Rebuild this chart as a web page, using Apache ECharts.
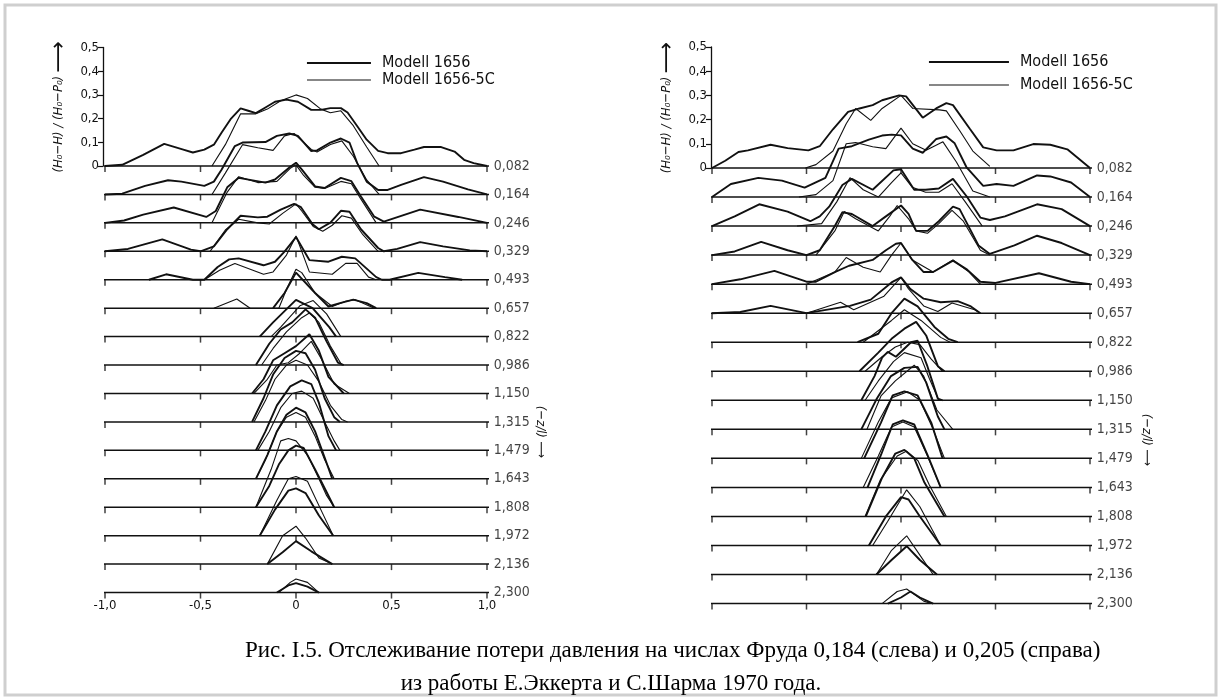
<!DOCTYPE html>
<html>
<head>
<meta charset="utf-8">
<script src="https://cdn.jsdelivr.net/npm/echarts@6/dist/echarts.min.js"></script>
<style>
  html, body { margin: 0; padding: 0; background: #fff; }
  #chart { width: 1222px; height: 700px; }
</style>
</head>
<body>
<div id="chart"></div>
<script>
// z/l stations, top to bottom
var stations = ['0,082', '0,164', '0,246', '0,329', '0,493', '0,657', '0,822', '0,986',
                '1,150', '1,315', '1,479', '1,643', '1,808', '1,972', '2,136', '2,300'];
var xTicks = [-1, -0.5, 0, 0.5, 1];

// Fr = 0,184 (left), Modell 1656 - [x, (H0-H)/(H0-P0)]
var left1656 = [
  [[-1,0],[-0.91,0.005],[-0.8,0.047],[-0.69,0.093],[-0.59,0.069],[-0.54,0.057],[-0.48,0.069],[-0.43,0.09],[-0.39,0.14],[-0.34,0.2],[-0.29,0.243],[-0.25,0.233],[-0.21,0.223],[-0.16,0.247],[-0.11,0.271],[-0.05,0.28],[0.01,0.271],[0.08,0.237],[0.13,0.237],[0.18,0.244],[0.235,0.244],[0.27,0.226],[0.32,0.169],[0.37,0.111],[0.43,0.064],[0.48,0.054],[0.55,0.054],[0.62,0.069],[0.67,0.08],[0.76,0.08],[0.83,0.061],[0.88,0.026],[0.93,0.012],[1,0]],
  [[-1,0],[-0.91,0.003],[-0.79,0.036],[-0.67,0.06],[-0.6,0.054],[-0.48,0.036],[-0.43,0.054],[-0.39,0.104],[-0.32,0.204],[-0.28,0.219],[-0.16,0.221],[-0.1,0.247],[-0.035,0.257],[0.01,0.247],[0.08,0.183],[0.11,0.186],[0.18,0.219],[0.235,0.236],[0.28,0.219],[0.32,0.133],[0.37,0.054],[0.43,0.019],[0.48,0.019],[0.55,0.04],[0.67,0.073],[0.77,0.054],[0.9,0.021],[1,0]],
  [[-1,0],[-0.9,0.01],[-0.8,0.035],[-0.64,0.065],[-0.47,0.025],[-0.42,0.05],[-0.36,0.15],[-0.3,0.19],[-0.16,0.17],[-0.11,0.183],[-0.03,0.237],[0,0.254],[0.03,0.226],[0.1,0.154],[0.15,0.147],[0.235,0.19],[0.29,0.176],[0.34,0.111],[0.41,0.026],[0.46,0.005],[0.65,0.056],[0.85,0.025],[1,0]],
  [[-1,0],[-0.88,0.01],[-0.7,0.05],[-0.55,0.007],[-0.5,0],[-0.43,0.021],[-0.36,0.093],[-0.29,0.15],[-0.2,0.143],[-0.15,0.146],[-0.08,0.176],[-0.01,0.2],[0.026,0.186],[0.087,0.114],[0.12,0.093],[0.18,0.121],[0.235,0.171],[0.28,0.167],[0.34,0.093],[0.43,0.014],[0.46,0],[0.53,0.01],[0.65,0.039],[0.77,0.021],[0.91,0.004],[1,0]],
  [[-0.77,0],[-0.68,0.023],[-0.54,0],[-0.48,0],[-0.41,0.054],[-0.35,0.086],[-0.3,0.09],[-0.17,0.061],[-0.11,0.076],[-0.06,0.119],[0,0.18],[0.07,0.083],[0.17,0.076],[0.24,0.097],[0.31,0.09],[0.42,0.011],[0.45,0],[0.49,0],[0.64,0.029],[0.78,0.011],[0.87,0]],
  [[-0.12,0],[-0.06,0.064],[0,0.15],[0.1,0.064],[0.17,0.007],[0.23,0.021],[0.3,0.036],[0.37,0.021],[0.42,0]],
  [[-0.19,0],[-0.12,0.06],[0,0.155],[0.087,0.12],[0.174,0.04],[0.21,0]],
  [[-0.21,0],[-0.14,0.09],[-0.08,0.15],[-0.02,0.18],[0.05,0.235],[0.1,0.2],[0.16,0.1],[0.22,0.01],[0.25,0]],
  [[-0.23,0],[-0.17,0.06],[-0.12,0.14],[-0.06,0.17],[0,0.2],[0.07,0.25],[0.12,0.18],[0.17,0.07],[0.25,0]],
  [[-0.23,0],[-0.17,0.1],[-0.12,0.2],[-0.06,0.27],[0,0.3],[0.05,0.29],[0.1,0.22],[0.15,0.1],[0.2,0.02],[0.23,0]],
  [[-0.21,0],[-0.16,0.08],[-0.1,0.19],[-0.03,0.27],[0.03,0.295],[0.08,0.28],[0.12,0.2],[0.17,0.06],[0.21,0]],
  [[-0.21,0],[-0.15,0.1],[-0.1,0.2],[-0.05,0.27],[0,0.3],[0.05,0.28],[0.1,0.2],[0.15,0.09],[0.19,0]],
  [[-0.21,0],[-0.14,0.09],[-0.09,0.18],[-0.04,0.24],[0,0.26],[0.04,0.25],[0.1,0.16],[0.15,0.08],[0.2,0]],
  [[-0.19,0],[-0.11,0.11],[-0.04,0.19],[0,0.2],[0.05,0.18],[0.12,0.085],[0.195,0]],
  [[-0.15,0],[-0.07,0.05],[0,0.097],[0.08,0.054],[0.19,0]],
  [[-0.1,0],[-0.04,0.03],[0,0.04],[0.06,0.025],[0.12,0]]
];

// Fr = 0,184 (left), Modell 1656-5C
var left5C = [
  [[-0.44,0],[-0.37,0.09],[-0.29,0.22],[-0.21,0.22],[-0.15,0.24],[-0.08,0.275],[0,0.3],[0.06,0.285],[0.13,0.24],[0.18,0.225],[0.235,0.233],[0.3,0.17],[0.37,0.08],[0.435,0]],
  [[-0.44,0],[-0.37,0.09],[-0.28,0.21],[-0.2,0.197],[-0.12,0.186],[-0.06,0.247],[-0.01,0.257],[0.08,0.19],[0.11,0.179],[0.18,0.211],[0.24,0.226],[0.3,0.161],[0.37,0.061],[0.435,0]],
  [[-0.44,0],[-0.36,0.13],[-0.3,0.195],[-0.2,0.17],[-0.1,0.175],[-0.03,0.23],[0,0.245],[0.04,0.2],[0.1,0.15],[0.15,0.145],[0.235,0.175],[0.29,0.165],[0.34,0.1],[0.42,0]],
  [[-0.45,0],[-0.37,0.09],[-0.3,0.135],[-0.2,0.12],[-0.14,0.115],[-0.07,0.16],[0,0.2],[0.03,0.17],[0.09,0.105],[0.14,0.085],[0.19,0.11],[0.24,0.15],[0.29,0.14],[0.35,0.07],[0.43,0]],
  [[-0.48,0],[-0.4,0.04],[-0.32,0.069],[-0.17,0.023],[-0.12,0.033],[-0.05,0.104],[0,0.185],[0.07,0.033],[0.19,0.023],[0.26,0.069],[0.32,0.069],[0.38,0.011],[0.42,0]],
  [[-0.43,0],[-0.31,0.039],[-0.24,0],[-0.09,0],[-0.05,0.079],[0,0.164],[0.03,0.15],[0.1,0.064],[0.19,0.007],[0.26,0.029],[0.31,0.036],[0.41,0]],
  [[-0.13,0],[-0.08,0.04],[0.02,0.13],[0.09,0.152],[0.16,0.096],[0.235,0]],
  [[-0.18,0],[-0.12,0.07],[-0.05,0.14],[0.03,0.2],[0.07,0.22],[0.12,0.18],[0.18,0.08],[0.24,0]],
  [[-0.22,0],[-0.15,0.06],[-0.1,0.12],[-0.04,0.13],[0.02,0.17],[0.08,0.22],[0.13,0.15],[0.2,0.04],[0.28,0]],
  [[-0.22,0],[-0.16,0.09],[-0.11,0.18],[-0.05,0.24],[0,0.26],[0.06,0.24],[0.12,0.17],[0.18,0.07],[0.24,0.01],[0.27,0]],
  [[-0.2,0],[-0.14,0.08],[-0.08,0.18],[-0.02,0.24],[0.03,0.25],[0.09,0.22],[0.15,0.12],[0.2,0.04],[0.23,0]],
  [[-0.21,0],[-0.16,0.08],[-0.1,0.2],[-0.05,0.26],[0,0.28],[0.05,0.26],[0.1,0.18],[0.15,0.08],[0.2,0]],
  [[-0.21,0],[-0.13,0.16],[-0.08,0.28],[-0.04,0.29],[0,0.28],[0.06,0.22],[0.12,0.12],[0.16,0.05],[0.2,0]],
  [[-0.19,0],[-0.1,0.15],[-0.04,0.24],[0,0.25],[0.06,0.23],[0.13,0.11],[0.195,0]],
  [[-0.15,0],[-0.07,0.12],[0,0.16],[0.05,0.11],[0.12,0.026],[0.19,0]],
  [[-0.09,0],[-0.03,0.043],[0,0.057],[0.06,0.043],[0.12,0]]
];

// Fr = 0,205 (right), Modell 1656
var right1656 = [
  [[-1,0],[-0.93,0.03],[-0.86,0.066],[-0.81,0.073],[-0.69,0.096],[-0.6,0.082],[-0.49,0.073],[-0.43,0.09],[-0.36,0.16],[-0.28,0.232],[-0.22,0.246],[-0.15,0.26],[-0.1,0.28],[-0.01,0.3],[0.027,0.296],[0.115,0.208],[0.186,0.246],[0.24,0.268],[0.275,0.26],[0.364,0.162],[0.435,0.085],[0.506,0.073],[0.595,0.073],[0.7,0.099],[0.79,0.096],[0.88,0.077],[1,0]],
  [[-1,0],[-0.9,0.054],[-0.755,0.079],[-0.63,0.068],[-0.51,0.039],[-0.4,0.079],[-0.33,0.2],[-0.26,0.21],[-0.17,0.237],[-0.1,0.254],[-0.05,0.258],[0,0.255],[0.062,0.2],[0.115,0.183],[0.187,0.24],[0.24,0.25],[0.284,0.222],[0.346,0.124],[0.435,0.046],[0.506,0.054],[0.595,0.046],[0.72,0.089],[0.79,0.085],[0.9,0.06],[1,0]],
  [[-1,0],[-0.88,0.04],[-0.75,0.09],[-0.6,0.06],[-0.48,0.02],[-0.43,0.04],[-0.38,0.08],[-0.31,0.17],[-0.26,0.195],[-0.15,0.15],[-0.04,0.23],[0,0.235],[0.07,0.15],[0.13,0.15],[0.2,0.155],[0.275,0.195],[0.35,0.12],[0.42,0.035],[0.47,0.025],[0.55,0.04],[0.72,0.09],[0.85,0.07],[1,0]],
  [[-1,0],[-0.88,0.015],[-0.74,0.055],[-0.6,0.02],[-0.5,0],[-0.43,0.02],[-0.35,0.12],[-0.31,0.177],[-0.26,0.17],[-0.15,0.12],[-0.08,0.16],[0,0.205],[0.04,0.17],[0.08,0.1],[0.14,0.1],[0.2,0.14],[0.275,0.2],[0.31,0.19],[0.41,0.04],[0.47,0.005],[0.6,0.04],[0.72,0.08],[0.85,0.05],[1,0]],
  [[-1,0],[-0.85,0.02],[-0.67,0.055],[-0.5,0.01],[-0.45,0.01],[-0.35,0.05],[-0.275,0.076],[-0.15,0.1],[-0.08,0.14],[-0.027,0.167],[0,0.17],[0.06,0.1],[0.12,0.05],[0.17,0.05],[0.275,0.097],[0.35,0.06],[0.42,0.01],[0.5,0.005],[0.73,0.045],[0.9,0.01],[1,0]],
  [[-1,0],[-0.85,0.005],[-0.69,0.03],[-0.5,0],[-0.27,0.03],[-0.16,0.056],[-0.05,0.127],[0,0.148],[0.05,0.1],[0.12,0.06],[0.21,0.045],[0.3,0.05],[0.37,0.028],[0.42,0]],
  [[-0.23,0],[-0.12,0.035],[-0.05,0.12],[0.018,0.18],[0.088,0.148],[0.177,0.063],[0.25,0.014],[0.3,0]],
  [[-0.22,0],[-0.12,0.077],[-0.05,0.134],[0.018,0.176],[0.08,0.204],[0.133,0.148],[0.195,0.021],[0.23,0]],
  [[-0.21,0],[-0.14,0.1],[-0.1,0.176],[-0.07,0.2],[-0.027,0.18],[0.053,0.24],[0.088,0.246],[0.14,0.14],[0.195,0.007],[0.22,0]],
  [[-0.21,0],[-0.13,0.124],[-0.053,0.22],[0.018,0.254],[0.088,0.258],[0.133,0.194],[0.195,0.053],[0.23,0]],
  [[-0.195,0],[-0.106,0.148],[-0.044,0.26],[0.018,0.277],[0.088,0.26],[0.16,0.148],[0.22,0]],
  [[-0.177,0],[-0.106,0.134],[-0.044,0.26],[0.01,0.277],[0.07,0.26],[0.14,0.134],[0.21,0]],
  [[-0.186,0],[-0.1,0.16],[-0.03,0.26],[0.018,0.275],[0.07,0.24],[0.124,0.14],[0.23,0]],
  [[-0.17,0],[-0.08,0.12],[0,0.2],[0.04,0.19],[0.1,0.12],[0.21,0]],
  [[-0.13,0],[-0.05,0.06],[0.03,0.117],[0.1,0.06],[0.19,0]],
  [[-0.07,0],[0,0.025],[0.05,0.05],[0.1,0.025],[0.17,0]]
];

// Fr = 0,205 (right), Modell 1656-5C
var right5C = [
  [[-0.506,0],[-0.45,0.014],[-0.36,0.07],[-0.29,0.183],[-0.24,0.246],[-0.16,0.197],[-0.1,0.246],[0,0.3],[0.062,0.246],[0.204,0.24],[0.24,0.236],[0.31,0.155],[0.38,0.07],[0.47,0.007]],
  [[-0.54,0],[-0.45,0.01],[-0.36,0.068],[-0.29,0.22],[-0.24,0.225],[-0.15,0.208],[-0.08,0.2],[0,0.285],[0.062,0.22],[0.133,0.193],[0.222,0.228],[0.293,0.145],[0.38,0.025],[0.47,0]],
  [[-0.55,0],[-0.42,0.01],[-0.34,0.1],[-0.27,0.2],[-0.2,0.15],[-0.12,0.12],[-0.05,0.18],[0,0.22],[0.06,0.16],[0.13,0.14],[0.2,0.14],[0.27,0.175],[0.34,0.1],[0.43,0]],
  [[-0.45,0],[-0.35,0.1],[-0.3,0.18],[-0.24,0.15],[-0.12,0.1],[-0.06,0.16],[-0.02,0.205],[0.04,0.15],[0.08,0.1],[0.14,0.09],[0.2,0.13],[0.27,0.185],[0.33,0.14],[0.42,0.02],[0.47,0]],
  [[-0.5,0],[-0.35,0.05],[-0.29,0.11],[-0.2,0.07],[-0.11,0.05],[-0.05,0.12],[0,0.17],[0.06,0.1],[0.17,0.05],[0.275,0.1],[0.36,0.05],[0.42,0]],
  [[-0.5,0],[-0.32,0.045],[-0.25,0.014],[-0.09,0.07],[0,0.148],[0.04,0.1],[0.12,0.03],[0.195,0.007],[0.27,0.042],[0.39,0.014],[0.42,0]],
  [[-0.2,0],[-0.05,0.09],[0.018,0.134],[0.106,0.09],[0.21,0.02],[0.26,0]],
  [[-0.19,0],[-0.1,0.06],[-0.03,0.1],[0.035,0.12],[0.1,0.11],[0.16,0.05],[0.22,0]],
  [[-0.19,0],[-0.12,0.08],[-0.04,0.16],[0.018,0.197],[0.106,0.176],[0.15,0.09],[0.2,0]],
  [[-0.18,0],[-0.106,0.138],[-0.03,0.2],[0.07,0.265],[0.12,0.22],[0.19,0.08],[0.274,0]],
  [[-0.21,0],[-0.12,0.15],[-0.05,0.25],[0.035,0.275],[0.1,0.24],[0.17,0.12],[0.23,0]],
  [[-0.2,0],[-0.12,0.13],[-0.05,0.25],[0.01,0.27],[0.07,0.25],[0.14,0.13],[0.21,0]],
  [[-0.19,0],[-0.11,0.15],[-0.02,0.25],[0.03,0.27],[0.09,0.23],[0.15,0.13],[0.24,0]],
  [[-0.15,0],[-0.07,0.1],[0.03,0.23],[0.1,0.16],[0.21,0]],
  [[-0.13,0],[-0.05,0.1],[0.03,0.16],[0.1,0.08],[0.17,0]],
  [[-0.1,0],[-0.02,0.05],[0.03,0.06],[0.12,0.01],[0.16,0]]
];

var stationStep = 0.12;   // vertical shift between neighbouring profiles, in axis units
var ink = '#111';
var plotFont = '"DejaVu Sans Condensed", "Liberation Sans Narrow", "Roboto Condensed", Roboto, sans-serif';
var thickW = 1.9, thinW = 1.1;

function commaNum(v) {
    if (v === 0) return '0';
    return v.toFixed(1).replace('.', ',');
}

function profileSeries(profiles, axis, name, width) {
    return profiles.map(function (pts, i) {
        return {
            name: name,
            type: 'line',
            xAxisIndex: axis,
            yAxisIndex: axis,
            clip: false,
            symbol: 'none',
            silent: true,
            color: ink,
            lineStyle: { color: ink, width: width },
            data: pts.map(function (p) { return [p[0], p[1] - i * stationStep]; })
        };
    });
}

function baseSeries(axis) {
    var out = [];
    var ticks = [];
    var labels = [];
    stations.forEach(function (s, i) {
        var y = -i * stationStep;
        out.push({
            type: 'line', xAxisIndex: axis, yAxisIndex: axis, clip: false,
            symbol: 'none', silent: true, color: ink,
            lineStyle: { color: ink, width: 1.5 },
            data: [[-1.035, y], [1.02, y]]
        });
        xTicks.forEach(function (t) { ticks.push([t, y]); });
        labels.push([1.02, y, s]);
    });
    out.push({
        type: 'scatter', xAxisIndex: axis, yAxisIndex: axis, clip: false, silent: true,
        symbol: 'rect', symbolSize: [1.5, 6], symbolOffset: [0, 3],
        itemStyle: { color: ink },
        data: ticks
    });
    out.push({
        type: 'scatter', xAxisIndex: axis, yAxisIndex: axis, clip: false, silent: true,
        symbolSize: 0,
        label: {
            show: true, position: 'right', distance: 3,
            fontFamily: plotFont, fontSize: 14, color: ink,
            formatter: function (p) { return p.data[2]; }
        },
        data: labels
    });
    return out;
}

var scaleName = '{t|(H₀−H) / (H₀−P₀)} {a|⟶}';
var scaleNameStyle = {
    rich: {
        t: { fontFamily: plotFont, fontStyle: 'italic', fontSize: 13, color: ink },
        a: { fontFamily: 'DejaVu Sans', fontSize: 22, color: ink }
    }
};

function scaleAxis(grid) {
    return {
        type: 'value', gridIndex: grid, min: 0, max: 0.5, interval: 0.1,
        name: scaleName, nameLocation: 'middle', nameRotate: 90, nameGap: 33,
        nameTextStyle: scaleNameStyle,
        axisLine: { show: true, lineStyle: { color: ink, width: 1.3 } },
        axisTick: { show: true, length: 5, lineStyle: { color: ink, width: 1.2 } },
        axisLabel: { margin: 4, fontFamily: plotFont, fontSize: 13, color: ink, formatter: commaNum },
        splitLine: { show: false }
    };
}

function legendFor(left, top, width, gap) {
    return {
        orient: 'vertical', left: left, top: top, padding: 0,
        itemWidth: width, itemHeight: 14, itemGap: gap,
        itemStyle: { opacity: 0 },
        textStyle: { fontFamily: plotFont, fontSize: 16, color: ink, padding: [0, 0, 0, 6] },
        data: [
            { name: 'Modell 1656', lineStyle: { width: thickW, color: ink } },
            { name: 'Modell 1656-5C', lineStyle: { width: thinW, color: ink } }
        ]
    };
}

var chart = echarts.init(document.getElementById('chart'));

var option = {
    animation: false,
    backgroundColor: '#fff',
    title: [
        {
            text: 'Рис. I.5. Отслеживание потери давления на числах Фруда 0,184 (слева) и 0,205 (справа)',
            left: 240, top: 634,
            textStyle: { fontFamily: '"Liberation Serif", serif', fontSize: 23, fontWeight: 'normal', color: '#000' }
        },
        {
            text: 'из работы Е.Эккерта и С.Шарма 1970 года.',
            left: 'center', top: 667,
            textStyle: { fontFamily: '"Liberation Serif", serif', fontSize: 23, fontWeight: 'normal', color: '#000' }
        }
    ],
    legend: [
        legendFor(306, 55, 64, 1),
        legendFor(928, 54, 80, 7)
    ],
    grid: [
        { left: 105, top: 47.5, width: 382, height: 549.8 },
        { left: 712, top: 47, width: 378, height: 561.4 },
        { left: 103, top: 47.5, width: 20, height: 118.5 },
        { left: 711, top: 47, width: 20, height: 121 }
    ],
    xAxis: [
        {
            type: 'value', gridIndex: 0, min: -1, max: 1, interval: 0.5,
            axisLine: { show: false }, axisTick: { show: false }, splitLine: { show: false },
            axisLabel: { margin: 2, fontFamily: plotFont, fontSize: 13, color: ink, formatter: commaNum }
        },
        {
            type: 'value', gridIndex: 1, min: -1, max: 1, interval: 0.5,
            axisLine: { show: false }, axisTick: { show: false }, splitLine: { show: false },
            axisLabel: { show: false }
        },
        { type: 'value', gridIndex: 2, show: false },
        { type: 'value', gridIndex: 3, show: false }
    ],
    yAxis: [
        { type: 'value', gridIndex: 0, min: -1.82, max: 0.5, show: false },
        { type: 'value', gridIndex: 1, min: -1.82, max: 0.5, show: false },
        scaleAxis(2),
        scaleAxis(3)
    ],
    graphic: [
        {
            type: 'rect', silent: true,
            shape: { x: 5, y: 5, width: 1211, height: 690 },
            style: { fill: 'none', stroke: '#cfcfcf', lineWidth: 3 }
        },
        {
            type: 'text', x: 540, y: 432, rotation: -Math.PI / 2, silent: true,
            style: {
                text: '(−z/l) ⟶', align: 'center', verticalAlign: 'middle',
                font: 'italic 13px ' + plotFont, fill: ink
            }
        },
        {
            type: 'text', x: 1146, y: 440, rotation: -Math.PI / 2, silent: true,
            style: {
                text: '(−z/l) ⟶', align: 'center', verticalAlign: 'middle',
                font: 'italic 13px ' + plotFont, fill: ink
            }
        }
    ],
    series: [].concat(
        baseSeries(0),
        baseSeries(1),
        profileSeries(left1656, 0, 'Modell 1656', thickW),
        profileSeries(left5C, 0, 'Modell 1656-5C', thinW),
        profileSeries(right1656, 1, 'Modell 1656', thickW),
        profileSeries(right5C, 1, 'Modell 1656-5C', thinW)
    )
};

chart.setOption(option);
window.addEventListener('resize', function () { chart.resize(); });
</script>
</body>
</html>
